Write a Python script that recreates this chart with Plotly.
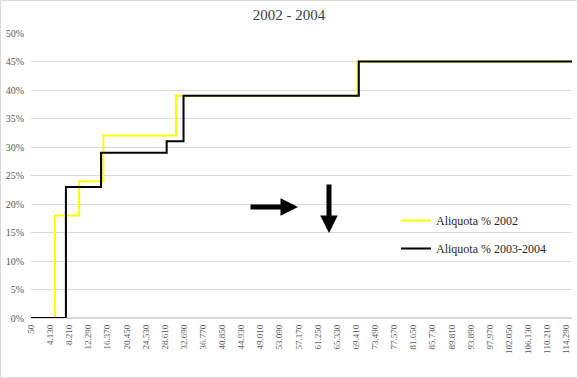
import plotly.graph_objects as go

# Income thresholds (euro) and marginal rates
income_2002 = [50, 5165, 10329, 15494, 30987, 69722, 115500]
rate_2002 = [0.0, 0.18, 0.24, 0.32, 0.39, 0.45, 0.45]

income_2003 = [50, 7500, 15000, 29000, 32600, 70000, 115500]
rate_2003 = [0.0, 0.23, 0.29, 0.31, 0.39, 0.45, 0.45]

tick_values = [50, 4130, 8210, 12290, 16370, 20450, 24530, 28610, 32690, 36770,
               40850, 44930, 49010, 53090, 57170, 61250, 65330, 69410, 73490,
               77570, 81650, 85730, 89810, 93890, 97970, 102050, 106130, 110210, 114290]
tick_labels = ["50", "4.130", "8.210", "12.290", "16.370", "20.450", "24.530", "28.610",
               "32.690", "36.770", "40.850", "44.930", "49.010", "53.090", "57.170",
               "61.250", "65.330", "69.410", "73.490", "77.570", "81.650", "85.730",
               "89.810", "93.890", "97.970", "102.050", "106.130", "110.210", "114.290"]

W, H = 578, 378
ML, MR, MT, MB = 31, 6, 33, 60
pw, ph = W - ML - MR, H - MT - MB

def px(x):
    return (x - ML) / pw

def py(y):
    return (H - MB - y) / ph

SERIF = "Liberation Serif"

fig = go.Figure()
fig.add_trace(go.Scatter(x=income_2002, y=rate_2002, mode="lines", line_shape="hv",
                         line=dict(color="#FFFF00", width=2), name="Aliquota % 2002",
                         legendgroup="a"))
fig.add_trace(go.Scatter(x=income_2003, y=rate_2003, mode="lines", line_shape="hv",
                         line=dict(color="#000000", width=2), name="Aliquota % 2003-2004",
                         legendgroup="b"))

fig.update_layout(
    width=W, height=H,
    margin=dict(l=ML, r=MR, t=MT, b=MB, autoexpand=False),
    paper_bgcolor="white", plot_bgcolor="white",
    title=dict(text="2002 - 2004", x=0.5, xanchor="center", y=1 - 15 / H, yanchor="middle",
               font=dict(family=SERIF, size=15, color="#404040")),
    font=dict(family=SERIF, color="#595959"),
    xaxis=dict(range=[50, 115500], tickvals=tick_values, ticktext=tick_labels,
               tickangle=-90, tickfont=dict(size=9, color="#595959"),
               showgrid=False, zeroline=False, showline=False, ticks="",
               automargin=False, ticklabelstandoff=4),
    yaxis=dict(range=[0, 0.5], dtick=0.05, tickformat=".0%",
               tickfont=dict(size=10, color="#595959"),
               showgrid=True, gridcolor="#D9D9D9", gridwidth=1,
               zeroline=True, zerolinecolor="#D9D9D9", showline=False, ticks="",
               automargin=False, ticklabelstandoff=6),
    showlegend=True,
    legend=dict(x=px(396), y=py(206), xanchor="left", yanchor="top",
                bgcolor="rgba(0,0,0,0)", font=dict(family=SERIF, size=12, color="#262626"),
                tracegroupgap=9, itemwidth=30),
)

# Outer chart border
fig.add_shape(type="rect", xref="paper", yref="paper",
              x0=px(0.5), x1=px(577.5), y0=py(377.5), y1=py(0.5),
              line=dict(color="#D9D9D9", width=1), fillcolor="rgba(0,0,0,0)", layer="below")

# Arrows
fig.add_annotation(xref="paper", yref="paper", x=px(298), y=py(207),
                   ax=-49, ay=0, showarrow=True, arrowhead=2, arrowsize=0.7,
                   arrowwidth=5, arrowcolor="black", text="")
fig.add_annotation(xref="paper", yref="paper", x=px(329), y=py(233),
                   ax=0, ay=-50, showarrow=True, arrowhead=2, arrowsize=0.7,
                   arrowwidth=5, arrowcolor="black", text="")

fig.write_html("out.html", config={"displayModeBar": False},
               post_script="document.body.style.margin='0';")
